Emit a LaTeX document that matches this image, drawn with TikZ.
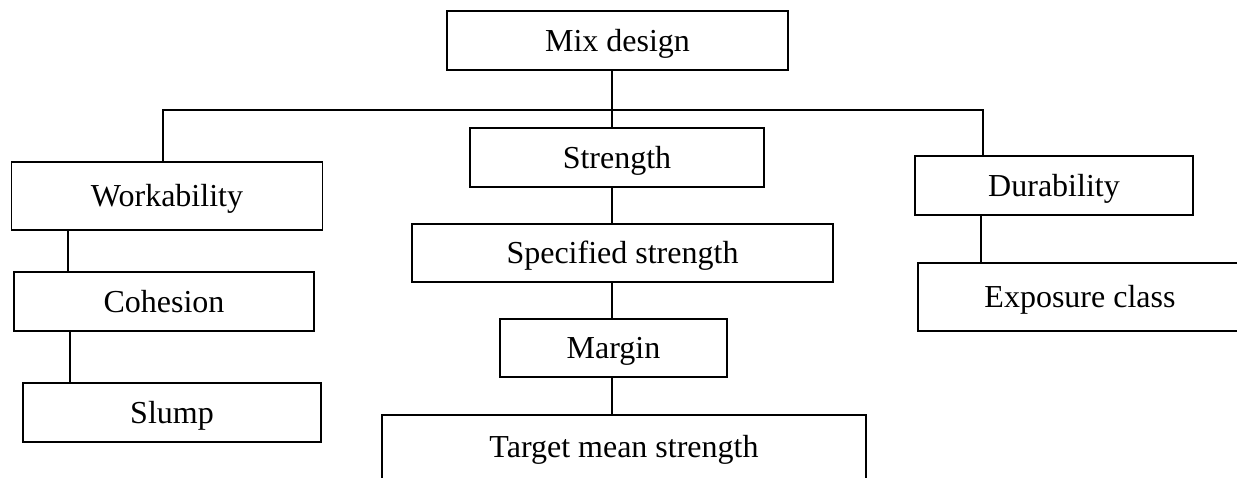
\documentclass[tikz,border=0pt]{standalone}
\usepackage{fontspec}
\setmainfont{Liberation Serif}
\begin{document}
\begin{tikzpicture}[x=1pt,y=-1pt,
  box/.style={draw, line width=1.8pt, rectangle, inner sep=0pt,
    text height=21pt, text depth=0pt,
    font=\fontsize{32}{38}\selectfont},
  link/.style={line width=1.8pt}]
\useasboundingbox (0,0) rectangle (1237,477);
\clip (0,0) rectangle (1237,477);

% boxes
\node[box, minimum width=341pt, minimum height=59pt] (mix) at (617.5,40.5) {Mix design};
\node[box, minimum width=294pt, minimum height=59pt] (strength) at (617,157.5) {Strength};
\node[box, minimum width=311pt, minimum height=68pt] (work) at (167,196) {Workability};
\node[box, minimum width=278pt, minimum height=59pt] (dur) at (1054,185.5) {Durability};
\node[box, minimum width=421pt, minimum height=58pt] (spec) at (622.5,253) {Specified strength};
\node[box, minimum width=300pt, minimum height=59pt] (coh) at (164,301.5) {Cohesion};
\node[box, minimum width=324pt, minimum height=68pt] (expo) at (1080,297) {Exposure class};
\node[box, minimum width=227pt, minimum height=58pt] (margin) at (613.5,348) {Margin};
\node[box, minimum width=298pt, minimum height=59pt] (slump) at (172,412.5) {Slump};
\node[box, minimum width=484pt, minimum height=64pt] (target) at (624,447) {Target mean strength};

% connector guide positions
\coordinate (spine) at (612,0);
\coordinate (wl) at (163,110);
\coordinate (dr) at (983,110);
\coordinate (wc) at (68,0);
\coordinate (cs) at (70,0);
\coordinate (de) at (981,0);

% connectors
\draw[link] (mix.south -| spine) -- (strength.north -| spine);
\draw[link] (work.north -| wl) -- (wl) -- (dr) -- (dur.north -| dr);
\draw[link] (strength.south -| spine) -- (spec.north -| spine);
\draw[link] (spec.south -| spine) -- (margin.north -| spine);
\draw[link] (margin.south -| spine) -- (target.north -| spine);
\draw[link] (work.south -| wc) -- (coh.north -| wc);
\draw[link] (coh.south -| cs) -- (slump.north -| cs);
\draw[link] (dur.south -| de) -- (expo.north -| de);
\end{tikzpicture}
\end{document}
